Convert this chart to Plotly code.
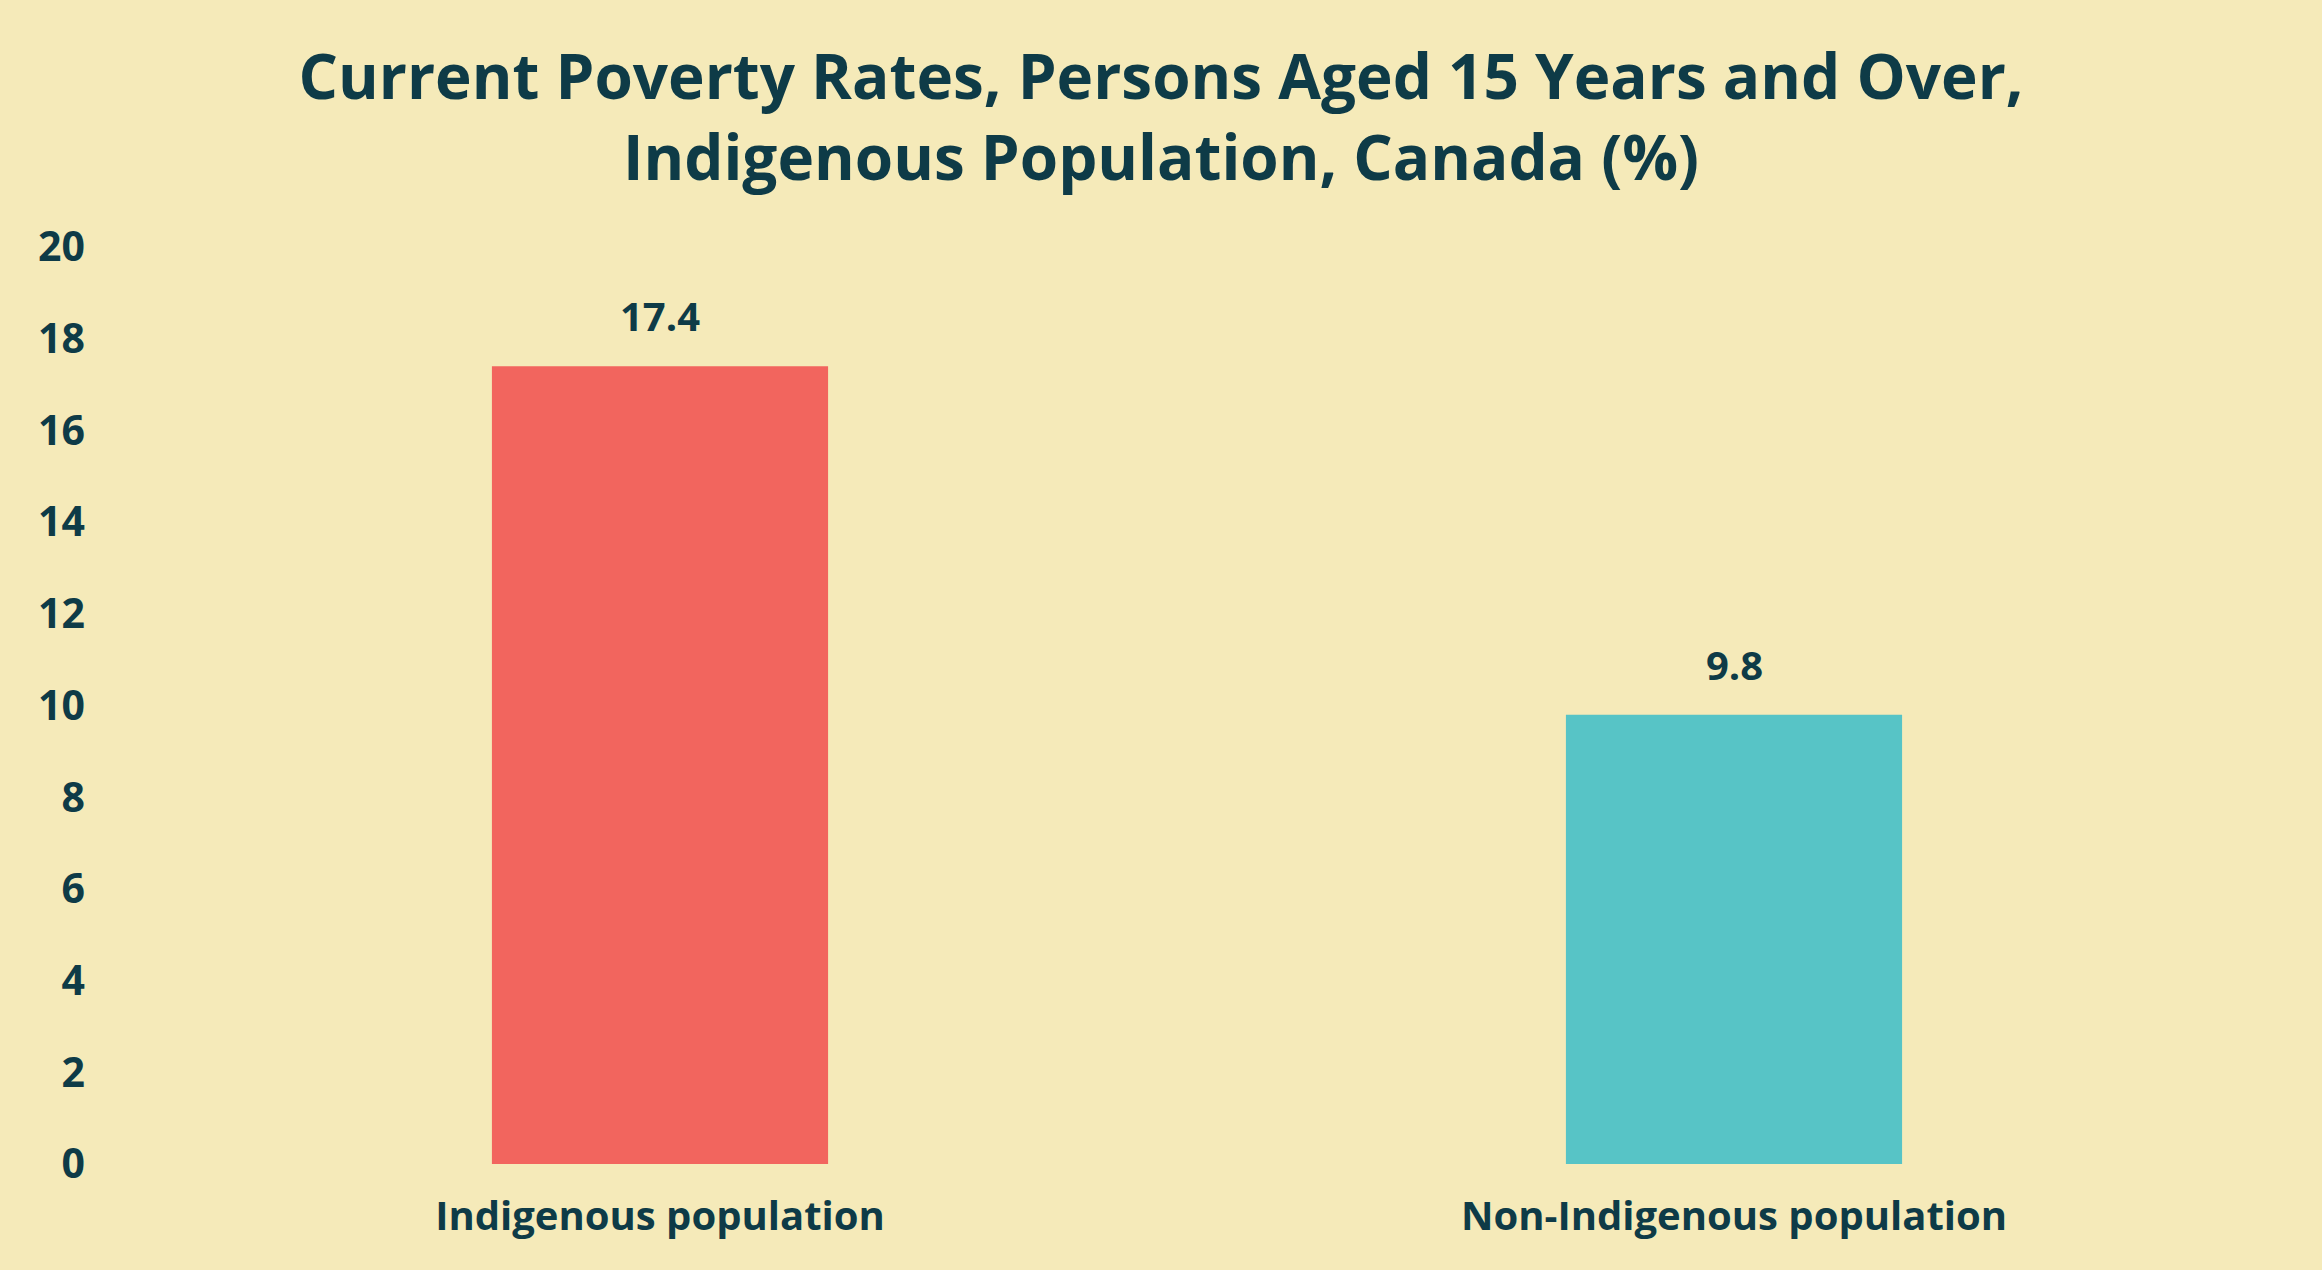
import plotly.graph_objects as go

# chart data
categories = ['Indigenous population', 'Non-Indigenous population']
poverty_rates = [17.4, 9.8]
bar_colors = ['#F2655E', '#57C4C6']
y_ticks = [0, 2, 4, 6, 8, 10, 12, 14, 16, 18, 20]

text_color = '#0E3B47'
bg_color = '#F5EAB9'
font_family = 'Open Sans'

fig = go.Figure()

fig.add_trace(go.Bar(
    x=categories,
    y=poverty_rates,
    marker=dict(color=bar_colors, line=dict(width=0)),
    width=0.313,
    hoverinfo='x+y',
    showlegend=False
))

# value labels above the bars
for cat, val in zip(categories, poverty_rates):
    fig.add_annotation(
        x=cat, y=val,
        text=f'<b>{val}</b>',
        showarrow=False,
        yanchor='bottom',
        yshift=21,
        font=dict(family=font_family, size=40, color=text_color)
    )

fig.update_layout(
    title=dict(
        text='<b>Current Poverty Rates, Persons Aged 15 Years and Over,<br>Indigenous Population, Canada (%)</b>',
        x=0.5,
        xanchor='center',
        yref='container',
        y=0.922,
        yanchor='middle',
        font=dict(family=font_family, size=62, color=text_color)
    ),
    paper_bgcolor=bg_color,
    plot_bgcolor=bg_color,
    width=2322,
    height=1270,
    margin=dict(l=123, r=51, t=247, b=106),
    xaxis=dict(
        showgrid=False,
        showline=False,
        zeroline=False,
        ticks='',
        ticklabelstandoff=25,
        tickfont=dict(family=font_family, size=40, color=text_color),
        tickmode='array',
        tickvals=categories,
        ticktext=[f'<b>{c}</b>' for c in categories]
    ),
    yaxis=dict(
        range=[0, 20],
        showgrid=False,
        showline=False,
        zeroline=False,
        ticks='',
        ticklabelstandoff=37,
        tickmode='array',
        tickvals=y_ticks,
        ticktext=[f'<b>{t}</b>' for t in y_ticks],
        tickfont=dict(family=font_family, size=41, color=text_color)
    )
)

# geen witte rand rond de pagina, geen modebar
fig.write_html('out.html', config={'displayModeBar': False},
               post_script="document.body.style.margin='0px';")
